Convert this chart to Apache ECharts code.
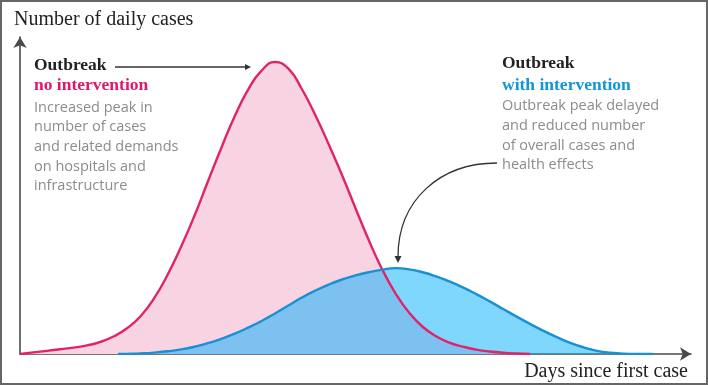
<!DOCTYPE html>
<html><head><meta charset="utf-8">
<script src="https://cdn.jsdelivr.net/npm/echarts@6/dist/echarts.min.js"></script>
<style>html,body{margin:0;padding:0;background:#fff}#c{width:708px;height:385px}</style>
</head><body><div id="c"></div>
<script>
// Days since first case (x) and daily cases (relative units, y)
const noInterventionDays = [0, 2, 4, 6, 8, 10, 12, 14, 16, 18, 20, 22, 24, 26, 28, 30, 32, 34, 36, 38, 40, 42, 44, 46, 48, 50, 52, 54, 56, 58, 60, 62, 64, 66, 68, 70, 72, 74, 76];
const noInterventionCases = [0, 0.5, 1.0, 1.5, 2.0, 2.7, 3.8, 5.6, 8.2, 12.0, 17.6, 25.0, 33.8, 43.6, 54.4, 65.0, 75.0, 83.4, 89.4, 92.1, 90.0, 83.6, 75.4, 66.2, 56.4, 46.0, 35.8, 26.6, 19.0, 13.0, 8.6, 5.6, 3.6, 2.3, 1.4, 0.8, 0.4, 0.15, 0];
const withInterventionDays = [14.6, 16, 18, 20, 22, 24, 26, 28, 30, 32, 34, 36, 38, 40, 42, 44, 46, 48, 50, 52, 54, 56, 58, 60, 62, 64, 66, 68, 70, 72, 74, 76, 78, 80, 82, 84, 86, 88, 90, 92, 94.3];
const withInterventionCases = [0, 0.05, 0.2, 0.45, 0.85, 1.45, 2.3, 3.4, 4.8, 6.4, 8.3, 10.4, 12.8, 15.3, 17.8, 20.0, 21.9, 23.5, 24.8, 25.8, 26.6, 27.1, 26.7, 25.8, 24.5, 22.9, 21.0, 18.9, 16.6, 14.2, 11.8, 9.5, 7.3, 5.3, 3.5, 2.1, 1.0, 0.4, 0.1, 0.02, 0];

const yTitle = 'Number of daily cases';
const xTitle = 'Days since first case';
const leftHead = 'Outbreak';
const leftSub = 'no intervention';
const leftBody = ['Increased peak in', 'number of cases', 'and related demands', 'on hospitals and', 'infrastructure'];
const rightHead = 'Outbreak';
const rightSub = 'with intervention';
const rightBody = ['Outbreak peak delayed', 'and reduced number', 'of overall cases and', 'health effects'];

const zip = (a, b) => a.map((v, i) => [v, b[i]]);
const serif = '"Liberation Serif", serif';
const sans = '"Open Sans", sans-serif';

const chart = echarts.init(document.getElementById('c'), null, {renderer: 'canvas'});
chart.setOption({
  animation: false,
  grid: {left: 20, right: 17, top: 37, bottom: 31},
  xAxis: {
    type: 'value', min: 0, max: 100,
    axisLine: {show: true, onZero: false, lineStyle: {color: '#4a4a4a', width: 1.6}, symbol: ['none', 'arrow'], symbolSize: [10, 11]},
    axisTick: {show: false}, axisLabel: {show: false}, splitLine: {show: false}
  },
  yAxis: {
    type: 'value', min: 0, max: 100,
    axisLine: {show: true, lineStyle: {color: '#4a4a4a', width: 1.6}, symbol: ['none', 'arrow'], symbolSize: [10, 11]},
    axisTick: {show: false}, axisLabel: {show: false}, splitLine: {show: false}
  },
  series: [
    {
      type: 'line', data: zip(noInterventionDays, noInterventionCases), smooth: 0.5, symbol: 'none',
      lineStyle: {color: '#e0246a', width: 2.4},
      areaStyle: {color: '#f8d3e2', opacity: 1}
    },
    {
      type: 'line', data: zip(withInterventionDays, withInterventionCases), smooth: 0.5, symbol: 'none',
      lineStyle: {color: '#1a90d2', width: 2.4},
      areaStyle: {color: 'rgba(0,175,252,0.5)', opacity: 1}
    }
  ],
  graphic: [
    {type: 'rect', shape: {x: 1, y: 1, width: 706, height: 383}, style: {fill: 'none', stroke: '#666', lineWidth: 2}, silent: true},
    {type: 'text', x: 14, y: 20, style: {text: yTitle, font: '20px ' + serif, fill: '#222', verticalAlign: 'middle'}},
    {type: 'text', x: 688, y: 372, style: {text: xTitle, font: '20px ' + serif, fill: '#222', align: 'right', verticalAlign: 'middle'}},
    {type: 'text', x: 34, y: 65, style: {text: leftHead, font: 'bold 17.5px ' + serif, fill: '#222', verticalAlign: 'middle'}},
    {type: 'text', x: 34, y: 85, style: {text: leftSub, font: 'bold 17.5px ' + serif, fill: '#e0176a', verticalAlign: 'middle'}},
    {type: 'text', x: 34, y: 97.8, style: {text: leftBody.join('\n'), font: '14.5px ' + sans, fill: '#8c8c8c', lineHeight: 19.6, verticalAlign: 'top'}},
    {type: 'text', x: 502, y: 63, style: {text: rightHead, font: 'bold 17.5px ' + serif, fill: '#222', verticalAlign: 'middle'}},
    {type: 'text', x: 502, y: 85, style: {text: rightSub, font: 'bold 17.5px ' + serif, fill: '#1296d8', verticalAlign: 'middle'}},
    {type: 'text', x: 502, y: 96.5, style: {text: rightBody.join('\n'), font: '14.5px ' + sans, fill: '#8c8c8c', lineHeight: 19.6, verticalAlign: 'top'}},
    {type: 'line', shape: {x1: 115, y1: 67, x2: 246, y2: 67}, style: {stroke: '#333', lineWidth: 1.3}},
    {type: 'polygon', shape: {points: [[251, 67], [245, 64], [245, 70]]}, style: {fill: '#333'}},
    {type: 'bezierCurve', shape: {x1: 497, y1: 163, cpx1: 440, cpy1: 163, cpx2: 398, cpy2: 200, x2: 398, y2: 257}, style: {stroke: '#333', lineWidth: 1.3, fill: 'none'}},
    {type: 'polygon', shape: {points: [[398, 263], [394.5, 256], [401.5, 256]]}, style: {fill: '#333'}}
  ]
});
</script></body></html>
